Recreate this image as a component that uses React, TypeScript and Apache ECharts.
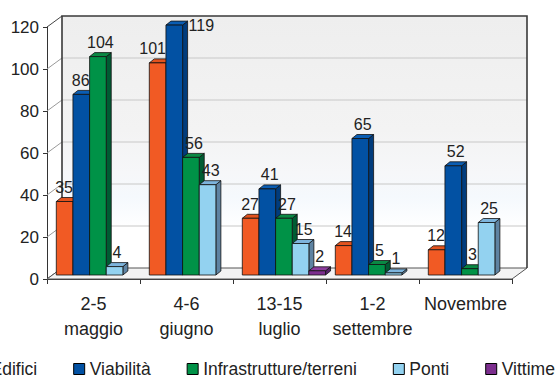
import { useEffect, useRef } from "react";
import * as echarts from "echarts";

// Categories (periods) and the counts for each kind of damage
const categories = ["2-5\nmaggio", "4-6\ngiugno", "13-15\nluglio", "1-2\nsettembre", "Novembre"];
const seriesNames = ["Edifici", "Viabilità", "Infrastrutture/terreni", "Ponti", "Vittime"];
const edifici = [35, 101, 27, 14, 12];
const viabilita = [86, 119, 41, 65, 52];
const infrastrutture = [104, 56, 27, 5, 3];
const ponti = [4, 43, 15, 1, 25];
const vittime = [0, 0, 2, 0, 0];
const yTicks = [0, 20, 40, 60, 80, 100, 120];

const seriesValues = [edifici, viabilita, infrastrutture, ponti, vittime];

const palette = [
  { front: "#F15A24", top: "#E2531F", side: "#B5441B" },
  { front: "#0251A3", top: "#0A5DB3", side: "#013C7C" },
  { front: "#009247", top: "#0A8844", side: "#005C33" },
  { front: "#93D2F0", top: "#7DB4DC", side: "#5E83A2" },
  { front: "#7C2E8E", top: "#8C3C9E", side: "#55206A" },
];

const FONT = '"Liberation Sans", Arial, Helvetica, sans-serif';
const TEXT = "#222222";
const VALUE_FONT_SIZE = 16;

// depth of the box (front plane -> back wall)
const DX = 15;
const DY = -11;
// bars stand slightly behind the front plane
const BAR_SHIFT_Y = -4;
// bar own depth
const BDX = 5;
const BDY = -4;

export default function App() {
  const ref = useRef<HTMLDivElement>(null);

  useEffect(() => {
    if (!ref.current) return;
    const chart = echarts.init(ref.current, undefined, { renderer: "svg" });
    const yMax = yTicks[yTicks.length - 1];

    const frameSeries: any = {
      type: "custom",
      name: "__frame",
      z: 1,
      silent: true,
      data: [[0, 0]],
      encode: { x: 0, y: 1 },
      renderItem: (params: any, api: any) => {
        const cs = params.coordSys;
        const x0 = cs.x;
        const x1 = cs.x + cs.width;
        const yOf = (v: number) => api.coord([0, v])[1];
        const yb = yOf(0);
        const yt = yOf(yMax);
        const children: any[] = [];
        // back wall
        children.push({
          type: "rect",
          shape: { x: x0 + DX, y: yt + DY, width: x1 - x0, height: yb - yt },
          style: {
            fill: new echarts.graphic.LinearGradient(0, 0, 0, 1, [
              { offset: 0, color: "#eeeeee" },
              { offset: 0.45, color: "#f3f3f3" },
              { offset: 0.62, color: "#f6f7f9" },
              { offset: 0.72, color: "#f5f9fd" },
              { offset: 0.84, color: "#ffffff" },
              { offset: 1, color: "#ffffff" },
            ]),
          },
        });
        // grid lines on back wall and left wall diagonals
        yTicks.forEach((v) => {
          const y = yOf(v);
          if (v > 0 && v < yMax) {
            children.push({
              type: "line",
              shape: { x1: x0 + DX, y1: y + DY, x2: x1 + DX, y2: y + DY },
              style: { stroke: "#c8c8c8", lineWidth: 1.2 },
            });
          }
          children.push({
            type: "line",
            shape: { x1: x0, y1: y, x2: x0 + DX, y2: y + DY },
            style: { stroke: v === 0 || v === yMax ? "#444" : "#9a9a9a", lineWidth: 1 },
          });
        });
        // floor
        children.push({
          type: "polygon",
          shape: {
            points: [
              [x0, yb],
              [x1, yb],
              [x1 + DX, yb + DY],
              [x0 + DX, yb + DY],
            ],
          },
          style: { fill: "#f3f3f3", stroke: "#555", lineWidth: 1 },
        });
        // back wall borders
        children.push({
          type: "polyline",
          shape: {
            points: [
              [x0 + DX, yb + DY],
              [x0 + DX, yt + DY],
              [x1 + DX, yt + DY],
              [x1 + DX, yb + DY],
            ],
          },
          style: { fill: "none", stroke: "#3a3a3a", lineWidth: 1.6 },
        });
        return { type: "group", children };
      },
    };

    const barSeries: any[] = seriesNames.map((name, si) => ({
      type: "custom",
      name,
      z: 2,
      itemStyle: { color: palette[si].front },
      data: seriesValues[si].map((v, ci) => [ci, v]),
      encode: { x: 0, y: 1 },
      renderItem: (params: any, api: any) => {
        const ci = api.value(0);
        const v = api.value(1);
        if (!v) return { type: "group", children: [] };
        const cs = params.coordSys;
        const base = api.coord([ci, 0]);
        const topP = api.coord([ci, v]);
        const bw = api.size([1, 0])[0];
        const w = bw * 0.179;
        const xl = base[0] - bw / 2 + bw * 0.1 + si * w;
        const xr = xl + w;
        const yb = base[1] + BAR_SHIFT_Y;
        const yt = topP[1] + BAR_SHIFT_Y;
        const c = palette[si];
        const edge = { stroke: "#111", lineWidth: 0.8 };

        // value label: above the bar, nudged away from taller neighbours,
        // or beside the bar when there is no room above it
        const text = String(v);
        const tw = text.length * 0.556 * VALUE_FONT_SIZE;
        let lx = xl + w / 2 + BDX / 2;
        let ly = yt + BDY - 2;
        let align = "center";
        let vAlign = "bottom";
        const prev = si > 0 ? seriesValues[si - 1][ci] : 0;
        const next = si < seriesValues.length - 1 ? seriesValues[si + 1][ci] : 0;
        if (ly - VALUE_FONT_SIZE < cs.y - 2) {
          lx = xr + BDX + 1;
          ly = yt;
          align = "left";
          vAlign = "middle";
        } else {
          if (next > v && lx + tw / 2 > xr) lx = xr - tw / 2;
          if (prev > v && lx - tw / 2 < xl + BDX / 2) lx = xl + BDX / 2 + tw / 2;
        }

        return {
          type: "group",
          children: [
            {
              type: "polygon",
              shape: { points: [[xr, yt], [xr + BDX, yt + BDY], [xr + BDX, yb + BDY], [xr, yb]] },
              style: { fill: c.side, ...edge },
            },
            {
              type: "polygon",
              shape: { points: [[xl, yt], [xr, yt], [xr + BDX, yt + BDY], [xl + BDX, yt + BDY]] },
              style: { fill: c.top, ...edge },
            },
            {
              type: "rect",
              shape: { x: xl, y: yt, width: w, height: yb - yt },
              style: { fill: c.front, ...edge },
            },
            {
              type: "text",
              z2: 10,
              style: {
                text,
                x: lx,
                y: ly,
                align,
                verticalAlign: vAlign,
                fill: TEXT,
                font: `${VALUE_FONT_SIZE}px ${FONT}`,
              },
            },
          ],
        };
      },
    }));

    chart.setOption({
      animation: false,
      backgroundColor: "#ffffff",
      textStyle: { fontFamily: FONT },
      grid: {
        left: 47,
        right: 43,
        top: 27,
        bottom: 99,
        containLabel: false,
        outerBoundsMode: "none",
      } as any,
      xAxis: {
        type: "category",
        data: categories,
        axisLine: { show: true, lineStyle: { color: "#333", width: 1 } },
        axisTick: { show: true, length: 5, lineStyle: { color: "#333" } },
        axisLabel: {
          interval: 0,
          fontSize: 18,
          lineHeight: 25,
          margin: 12,
          color: TEXT,
          fontFamily: FONT,
        },
        splitLine: { show: false },
      },
      yAxis: {
        type: "value",
        min: 0,
        max: 120,
        interval: 20,
        axisLine: { show: true, lineStyle: { color: "#333", width: 1 } },
        axisTick: { show: true, length: 4, lineStyle: { color: "#333" } },
        axisLabel: { fontSize: 17, color: TEXT, margin: 8, fontFamily: FONT },
        splitLine: { show: false },
      },
      legend: {
        left: -31,
        top: 355,
        width: 640,
        orient: "horizontal",
        icon: "rect",
        itemWidth: 11,
        itemHeight: 11,
        itemGap: 36,
        selectedMode: false,
        textStyle: { fontSize: 17.5, color: TEXT, fontFamily: FONT, padding: [4, 0, 0, 0] },
        data: seriesNames.map((n, i) => ({
          name: n,
          itemStyle: { color: palette[i].front, borderColor: "#000", borderWidth: 1 },
        })),
      },
      series: [frameSeries, ...barSeries],
    });

    return () => chart.dispose();
  }, []);

  return (
    <div
      ref={ref}
      style={{ position: "absolute", left: 0, top: 0, width: 555, height: 378 }}
    />
  );
}
